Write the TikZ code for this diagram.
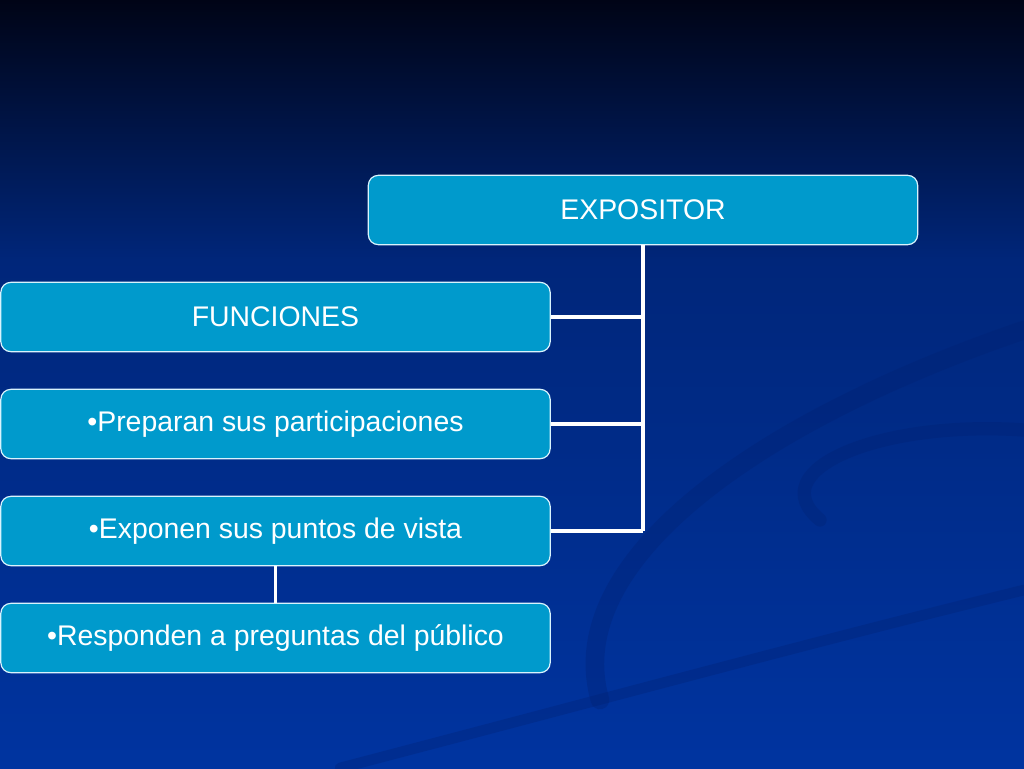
\documentclass[tikz,border=0pt]{standalone}
\usepackage{fontspec}
\setmainfont{Liberation Sans}
\definecolor{boxfill}{RGB}{0,154,204}
\definecolor{bgtop}{RGB}{0,4,22}
\definecolor{bgmid}{RGB}{0,38,122}
\definecolor{bgbot}{RGB}{0,52,160}
\definecolor{swirl}{RGB}{0,32,112}
\tikzset{
  box/.style={draw=white!85!cyan, line width=0.9pt, fill=boxfill, rounded corners=7.5pt,
    minimum width=412pt, minimum height=52pt, text=white, font=\fontsize{21.3}{24}\selectfont},
  link/.style={draw=white, line width=2.6pt}
}
\begin{document}
\begin{tikzpicture}[x=0.75pt,y=-0.75pt]
  % background
  \useasboundingbox (0,0) rectangle (1024,768);
  \shade[top color=bgtop, bottom color=bgmid] (0,0) rectangle (1024,260);
  \shade[top color=bgmid, bottom color=bgbot] (0,259) rectangle (1024,768);
  \begin{scope}[swirl, opacity=0.3, line cap=round]
    \draw[line width=14pt] (600,700) .. controls (560,560) and (760,420) .. (1024,330);
    \draw[line width=10pt] (820,520) .. controls (760,470) and (880,420) .. (1024,430);
    \draw[line width=8pt] (340,768) .. controls (600,700) and (820,640) .. (1024,590);
  \end{scope}
  \draw
    (643,210) node[box, minimum width=412pt] (expositor){EXPOSITOR}
    (275.5,317) node[box] (funciones){FUNCIONES}
    (275.5,424) node[box] (preparan){\textbullet Preparan sus participaciones}
    (275.5,531) node[box] (exponen){\textbullet Exponen sus puntos de vista}
    (275.5,638) node[box] (responden){\textbullet Responden a preguntas del público};
  \coordinate (trunk) at (expositor.south |- exponen.east);
  \begin{scope}[link]
    \draw (expositor.south) to (trunk);
    \draw (funciones.east) to (funciones.east -| trunk);
    \draw (preparan.east) to (preparan.east -| trunk);
    \draw (exponen.east) to (trunk);
    \draw (exponen.south) to (responden.north);
  \end{scope}
\end{tikzpicture}
\end{document}
